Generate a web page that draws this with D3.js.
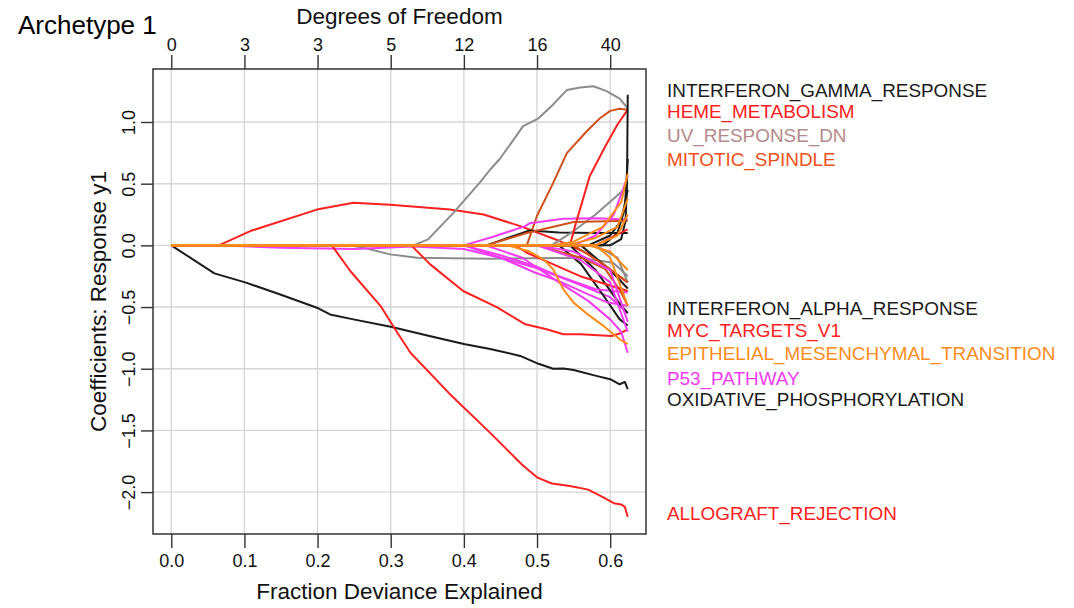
<!DOCTYPE html>
<html>
<head>
<meta charset="utf-8">
<script src="https://cdn.jsdelivr.net/npm/d3@7"></script>
<style>
  body { margin: 0; background: #fff; }
  text { font-family: "Liberation Sans", Arial, Helvetica, sans-serif; }
</style>
</head>
<body>
<svg id="chart" width="1074" height="608"></svg>
<script>
// tick values
const xTicks = [0, 0.1, 0.2, 0.3, 0.4, 0.5, 0.6];
const dfLabels = ["0", "3", "3", "5", "12", "16", "40"];
const yTicks = [-2, -1.5, -1, -0.5, 0, 0.5, 1];

// coefficient paths: [fraction deviance, coefficient]
const pathColor = [
  "gray", "magenta", "black", "red", "red", "gray", "brown", "red", "black", "gray",
  "black", "magenta", "magenta", "magenta", "magenta", "magenta", "black", "black",
  "brown", "red", "magenta", "black", "black", "red", "brown", "gray", "black",
  "brown", "magenta", "red", "orange", "orange", "orange", "orange", "orange", "orange"
];
const pathPoints = [
  // gray negative
  [[0.245, 0], [0.27, -0.03], [0.299, -0.073], [0.336, -0.1], [0.436, -0.108], [0.559, -0.1], [0.604, -0.14], [0.615, -0.2], [0.624, -0.25]],
  // magenta early
  [[0.065, 0], [0.15, -0.02], [0.25, -0.03], [0.33, -0.01], [0.40, -0.03], [0.45, -0.1], [0.497, -0.18], [0.55, -0.3], [0.60, -0.42], [0.624, -0.55]],
  // OXIDATIVE_PHOSPHORYLATION
  [[0, 0], [0.059, -0.227], [0.101, -0.30], [0.15, -0.40], [0.201, -0.51], [0.217, -0.56], [0.249, -0.60], [0.30, -0.66], [0.35, -0.73], [0.40, -0.80], [0.436, -0.84], [0.477, -0.896], [0.502, -0.96], [0.522, -1.0], [0.536, -0.998], [0.55, -1.01], [0.581, -1.058], [0.60, -1.085], [0.613, -1.126], [0.62, -1.107], [0.624, -1.166]],
  // ALLOGRAFT_REJECTION
  [[0.2195, 0], [0.245, -0.21], [0.286, -0.49], [0.306, -0.68], [0.327, -0.87], [0.38, -1.2], [0.436, -1.52], [0.48, -1.78], [0.50, -1.88], [0.52, -1.93], [0.545, -1.95], [0.57, -1.98], [0.59, -2.04], [0.605, -2.09], [0.615, -2.10], [0.62, -2.12], [0.624, -2.2]],
  // red hump
  [[0.065, 0], [0.108, 0.116], [0.199, 0.29], [0.249, 0.346], [0.299, 0.33], [0.381, 0.29], [0.427, 0.25], [0.477, 0.156], [0.531, 0.035], [0.572, -0.073], [0.60, -0.2], [0.624, -0.3]],
  // UV_RESPONSE_DN
  [[0.331, 0], [0.351, 0.049], [0.386, 0.265], [0.422, 0.51], [0.436, 0.615], [0.449, 0.70], [0.481, 0.966], [0.502, 1.03], [0.52, 1.13], [0.541, 1.26], [0.559, 1.28], [0.577, 1.29], [0.595, 1.25], [0.613, 1.19], [0.624, 1.11]],
  // MITOTIC_SPINDLE
  [[0.486, 0], [0.50, 0.24], [0.52, 0.48], [0.541, 0.75], [0.568, 0.925], [0.586, 1.03], [0.60, 1.09], [0.613, 1.107], [0.624, 1.10]],
  // MYC_TARGETS_V1
  [[0.328, 0], [0.354, -0.154], [0.399, -0.37], [0.445, -0.50], [0.484, -0.64], [0.513, -0.68], [0.536, -0.72], [0.559, -0.72], [0.602, -0.735], [0.615, -0.71], [0.624, -0.68]],
  // black small positive
  [[0.431, 0], [0.46, 0.06], [0.49, 0.12], [0.53, 0.105], [0.58, 0.1], [0.624, 0.1]],
  // gray rising
  [[0.52, 0], [0.55, 0.116], [0.58, 0.25], [0.605, 0.38], [0.624, 0.48]],
  // black IFNA
  [[0.53, 0], [0.56, -0.15], [0.59, -0.4], [0.613, -0.6], [0.624, -0.65]],
  // magenta rising
  [[0.40, 0], [0.44, 0.07], [0.484, 0.156], [0.49, 0.18], [0.536, 0.216], [0.58, 0.22], [0.624, 0.21]],
  [[0.40, 0], [0.45, -0.08], [0.497, -0.167], [0.53, -0.25], [0.58, -0.356], [0.624, -0.383]],
  [[0.40, 0], [0.45, -0.1], [0.497, -0.22], [0.53, -0.29], [0.57, -0.397], [0.597, -0.464], [0.624, -0.49]],
  // P53_PATHWAY
  [[0.43, 0], [0.48, -0.1], [0.53, -0.3], [0.57, -0.45], [0.60, -0.6], [0.615, -0.7], [0.624, -0.87]],
  [[0.55, 0], [0.58, 0.08], [0.605, 0.25], [0.624, 0.56]],
  [[0.545, 0], [0.58, -0.2], [0.61, -0.45], [0.624, -0.55]],
  [[0.57, 0], [0.60, 0.08], [0.615, 0.2], [0.624, 0.45]],
  [[0.50, 0], [0.56, -0.1], [0.593, -0.19], [0.613, -0.36], [0.624, -0.49]],
  [[0.47, 0], [0.486, -0.06], [0.559, -0.25], [0.624, -0.37]],
  [[0.50, 0], [0.56, -0.12], [0.60, -0.3], [0.624, -0.7]],
  [[0.59, 0], [0.61, 0.1], [0.62, 0.3], [0.624, 0.7]],
  [[0.56, 0], [0.60, -0.2], [0.624, -0.35]],
  // HEME_METABOLISM
  [[0.545, 0], [0.552, 0.156], [0.572, 0.56], [0.593, 0.80], [0.61, 0.98], [0.624, 1.10]],
  [[0.43, 0], [0.486, 0.1], [0.55, 0.19], [0.624, 0.2]],
  [[0.58, 0], [0.61, -0.1], [0.624, -0.3]],
  // INTERFERON_GAMMA_RESPONSE
  [[0.60, 0], [0.615, 0.05], [0.621, 0.2], [0.623, 0.5], [0.624, 1.22]],
  [[0.55, 0], [0.59, -0.15], [0.624, -0.3]],
  [[0.5, 0], [0.55, -0.05], [0.6, -0.2], [0.624, -0.62]],
  [[0.58, 0], [0.624, 0.13]],
  // EPITHELIAL_MESENCHYMAL_TRANSITION
  [[0.46, 0], [0.49, -0.05], [0.51, -0.12], [0.522, -0.194], [0.536, -0.356], [0.55, -0.464], [0.572, -0.572], [0.591, -0.653], [0.613, -0.761], [0.624, -0.80]],
  [[0.52, 0], [0.55, 0.03], [0.59, 0.15], [0.615, 0.35], [0.624, 0.58]],
  [[0.54, 0], [0.58, 0.06], [0.61, 0.15], [0.624, 0.38]],
  [[0.58, 0], [0.60, -0.1], [0.624, -0.49]],
  [[0.57, 0], [0.60, -0.05], [0.624, -0.2]],
  [[0.58, 0], [0.61, 0.08], [0.624, 0.25]]
];

// labels at the right edge
const labelNames = [
  "INTERFERON_GAMMA_RESPONSE", "HEME_METABOLISM", "UV_RESPONSE_DN", "MITOTIC_SPINDLE",
  "INTERFERON_ALPHA_RESPONSE", "MYC_TARGETS_V1", "EPITHELIAL_MESENCHYMAL_TRANSITION",
  "P53_PATHWAY", "OXIDATIVE_PHOSPHORYLATION", "ALLOGRAFT_REJECTION"
];
const labelValues = [1.255, 1.085, 0.89, 0.696, -0.51, -0.688, -0.874, -1.077, -1.247, -2.17];
const labelColor = ["black", "red", "rosy", "orangered", "black", "red", "orange", "magenta", "black", "red"];

const palette = {
  black: "#1a1a1a", red: "#ff2020", gray: "#8c8c8c", brown: "#d0501c",
  orange: "#ff8c1a", magenta: "#f23cf2", rosy: "#b48a8a", orangered: "#f2501a"
};

const svg = d3.select("#chart");
const margin = { top: 69, right: 428, bottom: 74, left: 153 };
const W = 1074, H = 608;

// every path starts at the origin
const paths = pathPoints.map(p => p[0][0] === 0 ? p : [[0, 0]].concat(p));
const allX = paths.flat().map(d => d[0]);
const allY = paths.flat().map(d => d[1]);
const xr = d3.extent(allX), yr = d3.extent(allY);
const xPad = (xr[1] - xr[0]) * 0.04, yPad = (yr[1] - yr[0]) * 0.04;

const x = d3.scaleLinear().domain([xr[0] - xPad, xr[1] + xPad]).range([margin.left, W - margin.right]);
const y = d3.scaleLinear().domain([yr[0] - yPad, yr[1] + yPad]).range([H - margin.bottom, margin.top]);

// grid
svg.append("g").selectAll("line").data(xTicks).join("line")
  .attr("x1", d => x(d)).attr("x2", d => x(d))
  .attr("y1", y.range()[1]).attr("y2", y.range()[0])
  .attr("stroke", "#d6d6d6").attr("stroke-width", 1.4);
svg.append("g").selectAll("line").data(yTicks).join("line")
  .attr("y1", d => y(d)).attr("y2", d => y(d))
  .attr("x1", x.range()[0]).attr("x2", x.range()[1])
  .attr("stroke", "#d6d6d6").attr("stroke-width", 1.4);

// coefficient lines
const line = d3.line().x(d => x(d[0])).y(d => y(d[1]));
svg.append("g").selectAll("path").data(paths).join("path")
  .attr("d", line)
  .attr("fill", "none")
  .attr("stroke", (d, i) => palette[pathColor[i]])
  .attr("stroke-width", 2)
  .attr("stroke-linejoin", "round");

// box
svg.append("rect")
  .attr("x", x.range()[0]).attr("y", y.range()[1])
  .attr("width", x.range()[1] - x.range()[0])
  .attr("height", y.range()[0] - y.range()[1])
  .attr("fill", "none").attr("stroke", "#333").attr("stroke-width", 1.5);

// axes
const axisFont = 18;
const xb = svg.append("g").attr("transform", `translate(0,${H - margin.bottom})`)
  .call(d3.axisBottom(x).tickValues(xTicks).tickFormat(d3.format(".1f")).tickSize(14).tickPadding(6));
const xt = svg.append("g").attr("transform", `translate(0,${margin.top})`)
  .call(d3.axisTop(x).tickValues(xTicks).tickFormat((d, i) => dfLabels[i]).tickSize(14).tickPadding(4));
const yl = svg.append("g").attr("transform", `translate(${margin.left},0)`)
  .call(d3.axisLeft(y).tickValues(yTicks).tickFormat(d3.format(".1f")).tickSize(12));

[xb, xt, yl].forEach(g => {
  g.select(".domain").remove();
  g.selectAll(".tick line").attr("stroke", "#333").attr("stroke-width", 1.4);
  g.selectAll(".tick text").attr("font-size", axisFont).attr("fill", "#111")
    .style("font-family", '"Liberation Sans", Arial, sans-serif');
});
// rotated y tick labels, R style
yl.selectAll(".tick text")
  .attr("transform", "translate(-24,0) rotate(-90)")
  .attr("x", 0).attr("y", 0).attr("dy", "0.35em")
  .attr("text-anchor", "middle")
  .text(d => d3.format(".1f")(d).replace("-", "\u2212"));

// titles
svg.append("text").attr("x", (x.range()[0] + x.range()[1]) / 2).attr("y", 599)
  .attr("text-anchor", "middle").attr("font-size", 22.5).attr("fill", "#111")
  .text("Fraction Deviance Explained");
svg.append("text").attr("x", (x.range()[0] + x.range()[1]) / 2).attr("y", 24)
  .attr("text-anchor", "middle").attr("font-size", 22.5).attr("fill", "#111")
  .text("Degrees of Freedom");
svg.append("text")
  .attr("transform", `translate(106,${(y.range()[0] + y.range()[1]) / 2}) rotate(-90)`)
  .attr("text-anchor", "middle").attr("font-size", 22.5).attr("fill", "#111")
  .text("Coefficients: Response y1");
svg.append("text").attr("x", 18).attr("y", 34)
  .attr("font-size", 26).attr("fill", "#000")
  .text("Archetype 1");

// right-hand labels
svg.append("g").selectAll("text").data(labelNames).join("text")
  .attr("x", 667)
  .attr("y", (d, i) => y(labelValues[i]))
  .attr("dy", "0.36em")
  .attr("font-size", 18.9)
  .attr("fill", (d, i) => palette[labelColor[i]])
  .text(d => d);
</script>
</body>
</html>
